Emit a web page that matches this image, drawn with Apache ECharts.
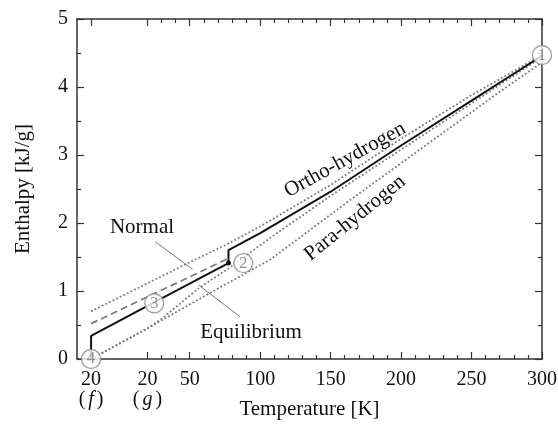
<!DOCTYPE html>
<html>
<head>
<meta charset="utf-8">
<script src="https://cdn.jsdelivr.net/npm/echarts@6/dist/echarts.min.js"></script>
<style>
html, body { margin: 0; padding: 0; background: #fff; }
#main { width: 558px; height: 425px; }
</style>
</head>
<body>
<div id="main"></div>
<script>
// T = -20 on the axis stands for the 20 K liquid point "(f)"
var solidT = [-20, -20, 20, 77.5, 77.5, 100, 150, 200, 250, 300];
var solidH = [0, 0.34, 0.78, 1.41, 1.60, 1.85, 2.46, 3.14, 3.80, 4.46];
var orthoT = [-20, 40, 77.5, 100, 150, 200, 250, 300];
var orthoH = [0.70, 1.32, 1.70, 1.95, 2.56, 3.24, 3.88, 4.47];
var normalT = [-20, 77.5];
var normalH = [0.52, 1.48];
var equilT = [-20, 20, 30, 57, 77.5, 107, 150, 200, 250, 300];
var equilH = [0, 0.45, 0.59, 1.05, 1.33, 1.78, 2.40, 3.08, 3.76, 4.44];
var paraT = [-20, 20, 60, 107, 164, 220, 270, 300];
var paraH = [0, 0.45, 0.92, 1.46, 2.34, 3.18, 3.93, 4.36];

var pointT = [300, 88, 24.8, -20];
var pointH = [4.47, 1.41, 0.82, 0];
var pointNames = ['1', '2', '3', '4'];

var normalPointer = [[25.5, 1.725], [52, 1.32]];
var equilPointer = [[56.2, 1.09], [85.8, 0.62]];

var xTickValues = [-20, 20, 50, 100, 150, 200, 250, 300];
var xTickText = ['20', '20', '50', '100', '150', '200', '250', '300'];
var xTickPhase = ['f', 'g', '', '', '', '', '', ''];
var xMinorTicks = [];
for (var t = 30; t < 300; t += 10) {
    if (t % 50 !== 0) xMinorTicks.push(t);
}

var serif = 'Liberation Serif';
var axisColor = '#333';

function zip(a, b) {
    var out = [];
    for (var i = 0; i < a.length; i++) out.push([a[i], b[i]]);
    return out;
}

function xAxisOf(pos, ticks, len, main) {
    return {
        type: 'value',
        position: pos,
        min: -30,
        max: 300,
        axisLine: { show: main, onZero: false, lineStyle: { color: axisColor, width: 1.5 } },
        axisTick: { show: true, inside: true, length: len, customValues: ticks,
            lineStyle: { color: axisColor, width: 1.2 } },
        axisLabel: { show: false },
        splitLine: { show: false }
    };
}

var bottomX = xAxisOf('bottom', xTickValues, 7, true);
bottomX.axisLabel = {
    show: true,
    customValues: xTickValues,
    margin: 11,
    formatter: function (v) {
        var i = xTickValues.indexOf(v);
        if (i < 0) return '';
        var s = '{n|' + xTickText[i] + '}';
        if (xTickPhase[i]) s += '\n{p|(}{i|' + xTickPhase[i] + '}{p|)}';
        return s;
    },
    rich: {
        n: { fontFamily: serif, fontSize: 20, color: '#111', lineHeight: 20 },
        p: { fontFamily: serif, fontSize: 20, color: '#111', lineHeight: 20 },
        i: { fontFamily: serif, fontSize: 20, fontStyle: 'italic', color: '#111', lineHeight: 20, padding: [0, 3] }
    }
};
bottomX.name = 'Temperature [K]';
bottomX.nameLocation = 'middle';
bottomX.nameGap = 40;
bottomX.nameMoveOverlap = false;
bottomX.nameTextStyle = { fontFamily: serif, fontSize: 21, color: '#111' };

function yAxisOf(pos, main) {
    return {
        type: 'value',
        position: pos,
        min: 0,
        max: 5,
        interval: 1,
        axisLine: { show: true, onZero: false, lineStyle: { color: axisColor, width: 1.5 } },
        axisTick: { show: true, inside: true, length: 7, lineStyle: { color: axisColor, width: 1.2 } },
        minorTick: { show: true, splitNumber: 2, length: 4, lineStyle: { color: axisColor, width: 1.2 } },
        axisLabel: { show: main, margin: 9, fontFamily: serif, fontSize: 20, color: '#111' },
        splitLine: { show: false }
    };
}

var leftY = yAxisOf('left', true);
leftY.name = 'Enthalpy [kJ/g]';
leftY.nameLocation = 'middle';
leftY.nameGap = 43;
leftY.nameMoveOverlap = false;
leftY.nameTextStyle = { fontFamily: serif, fontSize: 21, color: '#111' };

var dotted = [1.8, 2.2];
var dotColor = '#7a7a7a';

var solidData = zip(solidT, solidH);
solidData[3] = { value: solidData[3], symbol: 'circle', symbolSize: 5 };

var labelFont = '21px "Liberation Serif"';

var myChart = echarts.init(document.getElementById('main'));
var option = {
    backgroundColor: '#fff',
    animation: false,
    grid: { left: 77, right: 16, top: 19, bottom: 66, outerBoundsMode: 'none' },
    xAxis: [
        bottomX,
        xAxisOf('top', xTickValues, 7, true),
        xAxisOf('bottom', xMinorTicks, 4, false),
        xAxisOf('top', xMinorTicks, 4, false)
    ],
    yAxis: [leftY, yAxisOf('right', false)],
    series: [
        {
            name: 'Para-hydrogen', type: 'line', data: zip(paraT, paraH),
            symbol: 'none', z: 2,
            lineStyle: { color: dotColor, width: 1.8, type: dotted }
        },
        {
            name: 'Equilibrium', type: 'line', data: zip(equilT, equilH),
            symbol: 'none', z: 2,
            lineStyle: { color: dotColor, width: 1.8, type: dotted }
        },
        {
            name: 'Ortho-hydrogen', type: 'line', data: zip(orthoT, orthoH),
            symbol: 'none', z: 2,
            lineStyle: { color: dotColor, width: 1.8, type: dotted }
        },
        {
            name: 'Normal', type: 'line', data: zip(normalT, normalH),
            symbol: 'none', z: 2,
            lineStyle: { color: '#7a7a7a', width: 1.7, type: [7, 4] }
        },
        {
            name: 'pointerNormal', type: 'line', data: normalPointer,
            symbol: 'none', z: 2,
            lineStyle: { color: '#777', width: 1 }
        },
        {
            name: 'pointerEquil', type: 'line', data: equilPointer,
            symbol: 'none', z: 2,
            lineStyle: { color: '#777', width: 1 }
        },
        {
            name: 'Process', type: 'line', data: solidData,
            symbol: 'none', z: 3,
            itemStyle: { color: '#111' },
            lineStyle: { color: '#111', width: 2 }
        },
        {
            name: 'points', type: 'scatter', data: zip(pointT, pointH),
            symbol: 'circle', symbolSize: 19, z: 10, clip: false,
            itemStyle: { color: '#fff', borderColor: '#8c8c8c', borderWidth: 1.4 },
            label: {
                show: true, position: 'inside',
                formatter: function (p) { return pointNames[p.dataIndex]; },
                fontFamily: serif, fontSize: 17, color: '#777'
            }
        }
    ],
    graphic: [
        { type: 'text', x: 142, y: 227, z: 20,
          style: { text: 'Normal', font: labelFont, fill: '#111', align: 'center', verticalAlign: 'middle' } },
        { type: 'text', x: 251, y: 332, z: 20,
          style: { text: 'Equilibrium', font: labelFont, fill: '#111', align: 'center', verticalAlign: 'middle' } },
        { type: 'text', x: 345, y: 160, z: 20, rotation: 29 * Math.PI / 180,
          style: { text: 'Ortho-hydrogen', font: labelFont, fill: '#111', align: 'center', verticalAlign: 'middle' } },
        { type: 'text', x: 355, y: 218, z: 20, rotation: 39 * Math.PI / 180,
          style: { text: 'Para-hydrogen', font: labelFont, fill: '#111', align: 'center', verticalAlign: 'middle' } }
    ]
};
myChart.setOption(option);
</script>
</body>
</html>
